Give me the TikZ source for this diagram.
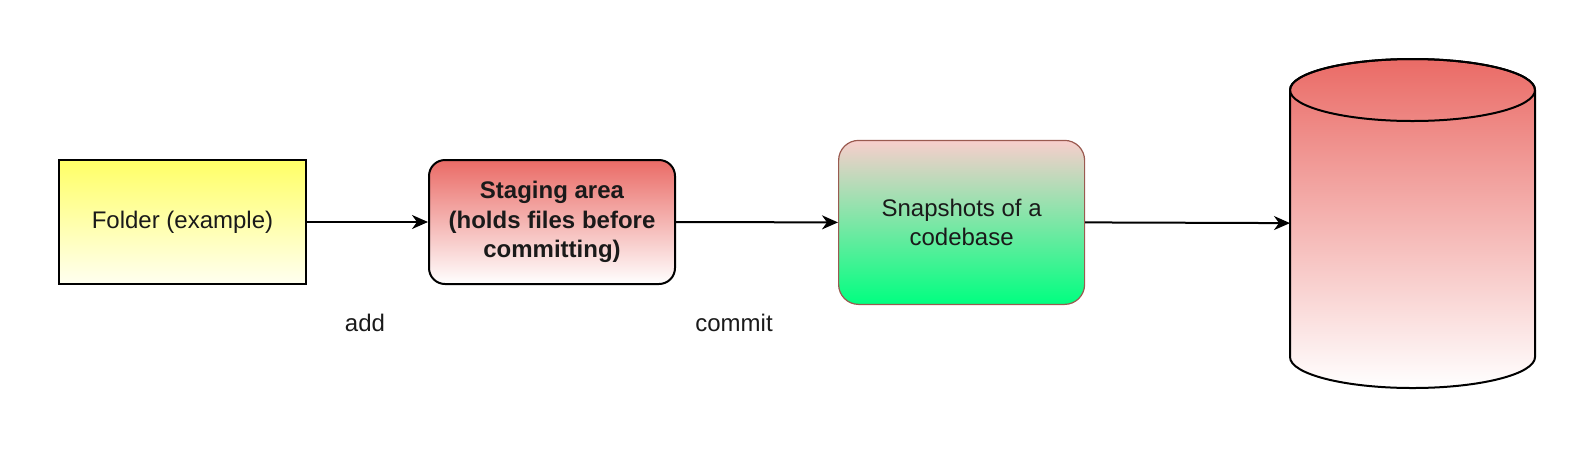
\documentclass[tikz,border=0pt]{standalone}
\usepackage{fontspec}
\setmainfont{Liberation Sans}
\usepackage{tikz}
\usetikzlibrary{arrows.meta}
\usetikzlibrary{positioning}

\definecolor{stageRed}{HTML}{EA6B66}
\definecolor{snapTop}{HTML}{F8CECC}
\definecolor{snapGreen}{HTML}{00FF80}
\definecolor{snapLine}{HTML}{9A5A50}
\definecolor{folderYellow}{HTML}{FFFF66}
\definecolor{folderPale}{HTML}{FFFFF0}
\definecolor{inkGray}{HTML}{1A1A1A}

\tikzset{
	box/.style={rectangle, draw=black, line width=1pt, minimum width=123pt, minimum height=62pt, align=center, anchor=south west, inner sep=0pt},
	flow/.style={black, line width=1pt, -{Stealth[length=8pt, width=7pt, inset=2.5pt]}},
	txt/.style={text=inkGray, font=\fontsize{12}{14.75}\selectfont}
}

\begin{document}
\begin{tikzpicture}[x=0.5pt, y=0.5pt, txt]

\useasboundingbox (0,0) rectangle (1593,463);

\node at (58,178) [box, minimum width=123.5pt, top color=folderYellow, bottom color=folderPale] (folder) 
		{Folder (example)};

\node at (428,178) [box, rounded corners=8pt, top color=stageRed, bottom color=white, font=\fontsize{12}{14.75}\selectfont\bfseries] (staging) 
		{Staging area\\ (holds files before\\ committing)};

\node at (838,158) [box, rounded corners=10pt, draw=snapLine, line width=0.6pt, minimum height=82pt, top color=snapTop, bottom color=snapGreen] (snap) 
		{Snapshots of a\\ codebase};

% repository drawn as a cylinder round an empty node
\node at (1290,75) [anchor=south west, minimum width=122.5pt, minimum height=164.5pt, inner sep=0pt] (repo) {};
\shade[top color=stageRed, bottom color=white, draw=black, line width=1pt] (1290,373) -- (1290,106) arc[start angle=180, end angle=360, x radius=122.5, y radius=31] -- (1535,373) arc[start angle=0, end angle=180, x radius=122.5, y radius=31] -- cycle;
\draw[black, line width=1pt] (1412.5,373) ellipse[x radius=122.5, y radius=31];

\draw[flow] (folder.east) -- (staging.west);
\draw[flow] (staging.east) -- (snap.west);
\draw[flow] (snap.east) -- (repo.west);

\node at (365,140) (addlbl) {add};
\node at (734,140) (commitlbl) {commit};

\end{tikzpicture}
\end{document}
